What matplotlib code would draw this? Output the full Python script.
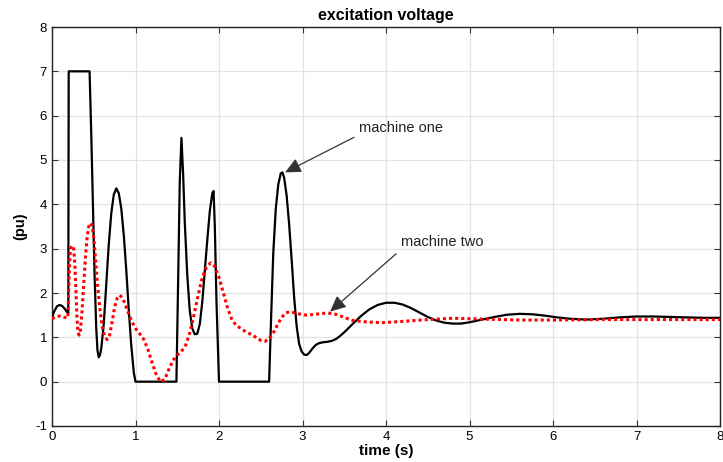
import matplotlib
matplotlib.use("Agg")
import matplotlib.pyplot as plt

plt.rcParams['font.family'] = ['Liberation Sans', 'DejaVu Sans']
plt.rcParams['axes.unicode_minus'] = False

# machine one (black solid)
t1 = [0.00, 0.03, 0.06, 0.09, 0.12, 0.15, 0.18, 0.195, 0.20, 0.45, 0.47, 0.49, 0.51, 0.53,
      0.545, 0.56, 0.575, 0.59, 0.62, 0.65, 0.68, 0.71, 0.74, 0.77, 0.80, 0.83, 0.86, 0.89,
      0.92, 0.95, 0.98, 1.00, 1.49, 1.51, 1.53, 1.55, 1.57, 1.59, 1.62, 1.65, 1.68, 1.71,
      1.74, 1.77, 1.80, 1.83, 1.86, 1.89, 1.92, 1.935, 1.95, 1.97, 2.00, 2.60, 2.625, 2.65,
      2.68, 2.71, 2.74, 2.76, 2.78, 2.81, 2.84, 2.87, 2.90, 2.93, 2.96, 2.99, 3.02, 3.05,
      3.08, 3.12, 3.16, 3.20, 3.25, 3.30, 3.35, 3.40, 3.45, 3.52, 3.60, 3.70, 3.80, 3.90,
      4.00, 4.10, 4.20, 4.30, 4.40, 4.50, 4.60, 4.70, 4.80, 4.90, 5.00, 5.15, 5.30, 5.45,
      5.60, 5.75, 5.90, 6.05, 6.20, 6.40, 6.60, 6.80, 7.00, 7.20, 7.40, 7.60, 7.80, 8.00]
v1 = [1.45, 1.60, 1.70, 1.73, 1.71, 1.65, 1.57, 1.55, 7.00, 7.00, 5.60, 4.00, 2.40, 1.20,
      0.70, 0.55, 0.60, 0.75, 1.30, 2.20, 3.10, 3.80, 4.22, 4.36, 4.25, 3.90, 3.30, 2.50,
      1.60, 0.80, 0.20, 0.00, 0.00, 2.20, 4.50, 5.50, 4.70, 3.60, 2.40, 1.60, 1.20, 1.07,
      1.08, 1.30, 1.80, 2.50, 3.20, 3.85, 4.25, 4.30, 3.50, 1.80, 0.00, 0.00, 1.50, 2.90,
      3.90, 4.45, 4.70, 4.72, 4.60, 4.20, 3.55, 2.75, 1.90, 1.25, 0.85, 0.68, 0.61, 0.60,
      0.65, 0.75, 0.83, 0.87, 0.89, 0.90, 0.92, 0.96, 1.03, 1.15, 1.30, 1.48, 1.63, 1.73,
      1.78, 1.78, 1.74, 1.66, 1.56, 1.46, 1.38, 1.33, 1.31, 1.31, 1.34, 1.40, 1.46, 1.51,
      1.53, 1.52, 1.49, 1.45, 1.42, 1.40, 1.42, 1.45, 1.47, 1.47, 1.46, 1.45, 1.44, 1.44]

# machine two (red dotted)
t2 = [0.00, 0.05, 0.10, 0.15, 0.19, 0.205, 0.22, 0.24, 0.26, 0.275, 0.29, 0.30, 0.31, 0.325,
      0.34, 0.36, 0.38, 0.40, 0.42, 0.44, 0.46, 0.48, 0.50, 0.52, 0.54, 0.57, 0.60, 0.63,
      0.66, 0.69, 0.72, 0.75, 0.78, 0.81, 0.84, 0.87, 0.90, 0.95, 1.00, 1.05, 1.10, 1.15,
      1.20, 1.25, 1.30, 1.35, 1.40, 1.45, 1.50, 1.55, 1.60, 1.65, 1.70, 1.75, 1.80, 1.85,
      1.90, 1.95, 2.00, 2.05, 2.10, 2.15, 2.20, 2.30, 2.40, 2.50, 2.55, 2.60, 2.65, 2.70,
      2.75, 2.80, 2.85, 2.95, 3.05, 3.15, 3.30, 3.40, 3.50, 3.60, 3.75, 3.95, 4.20, 4.50,
      4.80, 5.20, 5.60, 6.00, 6.50, 7.00, 7.50, 8.00]
v2 = [1.42, 1.47, 1.48, 1.45, 1.44, 2.40, 3.00, 3.07, 3.00, 2.60, 1.90, 1.40, 1.12, 1.05,
      1.15, 1.60, 2.20, 2.80, 3.25, 3.50, 3.58, 3.52, 3.25, 2.80, 2.30, 1.70, 1.25, 1.02,
      0.95, 1.05, 1.35, 1.68, 1.88, 1.95, 1.90, 1.78, 1.62, 1.38, 1.20, 1.08, 0.95, 0.72,
      0.42, 0.15, 0.00, 0.05, 0.28, 0.48, 0.60, 0.68, 0.82, 1.10, 1.50, 1.95, 2.35, 2.58,
      2.68, 2.60, 2.35, 2.02, 1.68, 1.42, 1.28, 1.15, 1.05, 0.93, 0.91, 0.97, 1.10, 1.28,
      1.45, 1.55, 1.58, 1.53, 1.50, 1.52, 1.55, 1.52, 1.45, 1.38, 1.35, 1.33, 1.36, 1.40,
      1.43, 1.41, 1.39, 1.39, 1.40, 1.40, 1.40, 1.40]

xticks = [0, 1, 2, 3, 4, 5, 6, 7, 8]
yticks = [-1, 0, 1, 2, 3, 4, 5, 6, 7, 8]

fig = plt.figure(figsize=(7.23, 4.62), dpi=100)
ax = fig.add_axes([52/723, 1 - 426/462, 668/723, 399/462])

ax.plot(t1, v1, color='black', lw=1.6, zorder=3, solid_joinstyle='round')
ax.plot(t2, v2, color='#ff0000', lw=2.2, ls=(0, (1, 1)), zorder=4)

ax.set_xlim(0, 8)
ax.set_ylim(-1, 8)
ax.set_xticks(xticks)
ax.set_yticks(yticks)
ax.grid(True, color='#e3e3e3', lw=0.9)
ax.set_axisbelow(True)
ax.tick_params(direction='in', top=True, right=True, length=4, labelsize=9.5, color='#333333')
for s in ax.spines.values():
    s.set_color('#222222')
    s.set_linewidth(1.0)

ax.set_title('excitation voltage', fontsize=11.5, fontweight='bold', pad=5)
ax.set_xlabel('time (s)', fontsize=11, fontweight='bold', labelpad=1)
ax.set_ylabel('(pu)', fontsize=10.5, fontweight='bold', labelpad=6)

arrow_kw = dict(arrowstyle='-|>,head_length=0.6,head_width=0.28', color='#333333', lw=0.9,
                mutation_scale=16, shrinkA=2, shrinkB=0, relpos=(0, 0))
ax.annotate('machine one', xy=(2.79, 4.72), xytext=(3.68, 5.73),
            fontsize=10.5, va='center', ha='left', color='#222222', arrowprops=arrow_kw)
ax.annotate('machine two', xy=(3.33, 1.58), xytext=(4.18, 3.14),
            fontsize=10.5, va='center', ha='left', color='#222222', arrowprops=arrow_kw)

fig.savefig('out.png', dpi=100)
